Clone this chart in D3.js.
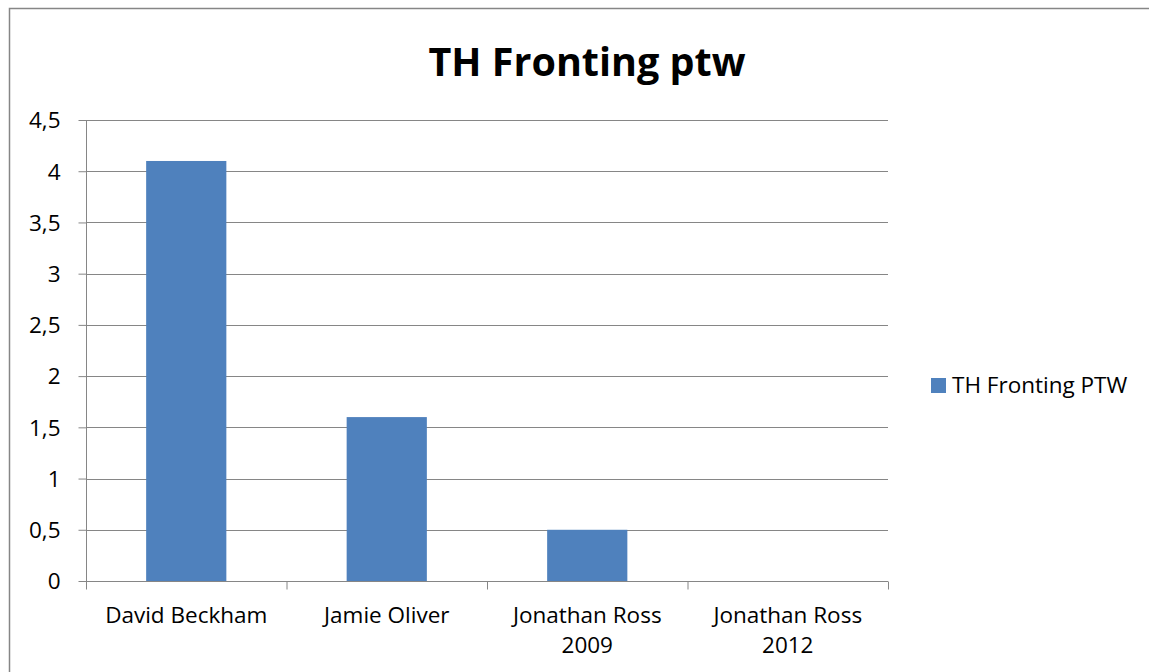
<!DOCTYPE html>
<html>
<head>
<meta charset="utf-8">
<script src="https://cdn.jsdelivr.net/npm/d3@7"></script>
<style>
  body { margin: 0; background: #fff; }
  svg { display: block; }
  text { font-family: "Open Sans", Lato, sans-serif; fill: #000; }
</style>
</head>
<body>
<svg id="chart" width="1149" height="672"></svg>
<script>
const categories = [["David Beckham"], ["Jamie Oliver"], ["Jonathan Ross", "2009"], ["Jonathan Ross", "2012"]];
const values = [4.1, 1.6, 0.5, 0];
const yTicks = [0, 0.5, 1, 1.5, 2, 2.5, 3, 3.5, 4, 4.5];
const seriesName = "TH Fronting PTW";
const title = "TH Fronting ptw";

const svg = d3.select("#chart");
const margin = { top: 120, left: 86, right: 261, bottom: 91 };
const width = 1149 - margin.left - margin.right;
const height = 672 - margin.top - margin.bottom;
const grey = "#868686";
const fs = "22.5px";

// outer chart frame
svg.append("rect")
    .attr("x", 9.5).attr("y", 8.5)
    .attr("width", 1200).attr("height", 700)
    .attr("fill", "none")
    .attr("stroke", grey)
    .attr("stroke-width", 1.5);

svg.append("text")
    .attr("x", 587).attr("y", 76)
    .attr("text-anchor", "middle")
    .style("font-weight", "bold")
    .style("font-size", "39.5px")
    .text(title);

const g = svg.append("g").attr("transform", `translate(${margin.left},${margin.top})`);

const x = d3.scaleBand()
    .domain(d3.range(categories.length))
    .range([0, width]);

const y = d3.scaleLinear()
    .domain([0, 4.5])
    .range([height, 0]);

// gridlines
g.selectAll(".grid")
    .data(yTicks.filter(d => d > 0))
    .enter()
    .append("line")
    .attr("x1", 0).attr("x2", width)
    .attr("y1", d => Math.round(y(d)) + 0.5)
    .attr("y2", d => Math.round(y(d)) + 0.5)
    .attr("stroke", grey);

// bars (gap width 150%)
const barW = x.bandwidth() / 2.5;
g.selectAll(".bar")
    .data(values)
    .enter()
    .append("rect")
    .attr("x", (d, i) => x(i) + (x.bandwidth() - barW) / 2)
    .attr("y", d => y(d))
    .attr("width", barW)
    .attr("height", d => height - y(d))
    .attr("fill", "#4F81BD");

// y axis
const yAxis = g.append("g")
    .attr("transform", "translate(0.5,0)")
    .call(d3.axisLeft(y).tickValues(yTicks).tickSize(8).tickPadding(18)
        .tickFormat(d => String(d).replace(".", ",")));
yAxis.selectAll("path, line").attr("stroke", grey);
yAxis.select(".domain").attr("d", `M0,0V${height}`);
yAxis.selectAll("text").style("font-size", fs).attr("dy", "0.35em");

// x axis
const xAxis = g.append("g").attr("transform", `translate(0,${height + 0.5})`);
xAxis.append("line").attr("x1", 0).attr("x2", width).attr("stroke", grey);
xAxis.selectAll(".tick")
    .data(d3.range(categories.length + 1))
    .enter()
    .append("line")
    .attr("x1", i => i * x.step() + 0.5)
    .attr("x2", i => i * x.step() + 0.5)
    .attr("y1", 0).attr("y2", 8)
    .attr("stroke", grey);
xAxis.selectAll(".lbl")
    .data(categories)
    .enter()
    .append("text")
    .attr("text-anchor", "middle")
    .style("font-size", fs)
    .attr("transform", (d, i) => `translate(${x(i) + x.bandwidth() / 2},41)`)
    .each(function (d) {
        d3.select(this).selectAll("tspan")
            .data(d)
            .enter()
            .append("tspan")
            .attr("x", 0)
            .attr("dy", (t, j) => j === 0 ? 0 : 30)
            .text(t => t);
    });

// legend
const lg = svg.append("g").attr("transform", "translate(931,378)");
lg.append("rect").attr("width", 15).attr("height", 15).attr("fill", "#4F81BD");
lg.append("text")
    .attr("x", 21).attr("y", 15)
    .style("font-size", fs)
    .text(seriesName);
</script>
</body>
</html>
